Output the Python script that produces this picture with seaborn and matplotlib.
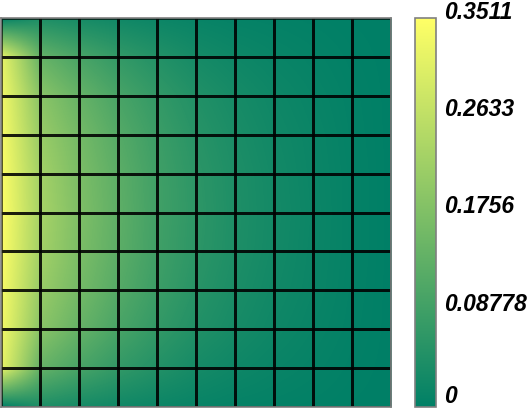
import numpy as np
import matplotlib
matplotlib.use("Agg")
import matplotlib.pyplot as plt
import seaborn as sns

sns.set_style("white")
plt.rcParams['font.family'] = ['Liberation Sans', 'DejaVu Sans']

# node coordinates of the 10x10 mesh
x_nodes = np.linspace(0, 1, 11)
y_nodes = np.linspace(0, 1, 11)

# nodal values (row 0 = top edge)
row0 = [0.000, 0.040, 0.030, 0.022, 0.016, 0.011, 0.007, 0.005, 0.003, 0.001, 0.0]
row1 = [0.320, 0.140, 0.100, 0.070, 0.048, 0.030, 0.020, 0.013, 0.008, 0.003, 0.0]
row2 = [0.335, 0.190, 0.140, 0.100, 0.070, 0.046, 0.031, 0.020, 0.012, 0.005, 0.0]
row3 = [0.342, 0.210, 0.160, 0.117, 0.082, 0.055, 0.037, 0.024, 0.015, 0.006, 0.0]
row4 = [0.348, 0.225, 0.170, 0.127, 0.088, 0.061, 0.041, 0.027, 0.016, 0.007, 0.0]
row5 = [0.3511, 0.230, 0.175, 0.130, 0.090, 0.063, 0.042, 0.028, 0.017, 0.007, 0.0]
values = np.array([row0, row1, row2, row3, row4, row5,
                   row4, row3, row2, row1, row0])

cbar_ticks = [0, 0.08778, 0.1756, 0.2633, 0.3511]
cbar_labels = ['0', '0.08778', '0.1756', '0.2633', '0.3511']

cmap = sns.color_palette("summer", as_cmap=True)

fig = plt.figure(figsize=(5.28, 4.10), dpi=100)
ax = fig.add_axes([1 / 528, 2 / 410, 390 / 528, 389 / 410])
cax = fig.add_axes([415 / 528, 2 / 410, 21 / 528, 389 / 410])

# smooth (bilinear) shading with pixel centres on the mesh nodes
h = (x_nodes[1] - x_nodes[0]) / 2
img = ax.imshow(values, cmap=cmap, vmin=0, vmax=0.3511, interpolation='bilinear',
                extent=(x_nodes[0] - h, x_nodes[-1] + h, y_nodes[0] - h, y_nodes[-1] + h),
                origin='upper', aspect='auto')
# mesh lines
X, Y = np.meshgrid(x_nodes, y_nodes[::-1])
ax.pcolormesh(X, Y, values[:-1, :-1], facecolor='none', edgecolors='black',
              linewidth=0.9, alpha=0.65)
ax.set_xlim(0, 1)
ax.set_ylim(0, 1)
ax.set_xticks([])
ax.set_yticks([])
for s in ax.spines.values():
    s.set_color('grey')
    s.set_linewidth(1.2)

cb = fig.colorbar(img, cax=cax, ticks=cbar_ticks)
cb.outline.set_edgecolor('grey')
cb.outline.set_linewidth(1.2)
cax.tick_params(length=0, pad=6)
cax.set_yticklabels(cbar_labels, fontsize=16.5, fontweight='bold',
                    fontstyle='italic', color='black')
for lbl in cax.get_yticklabels():
    lbl.set_va('baseline')
cax.get_yticklabels()[0].set_va('bottom')

fig.savefig('out.png', dpi=100)
